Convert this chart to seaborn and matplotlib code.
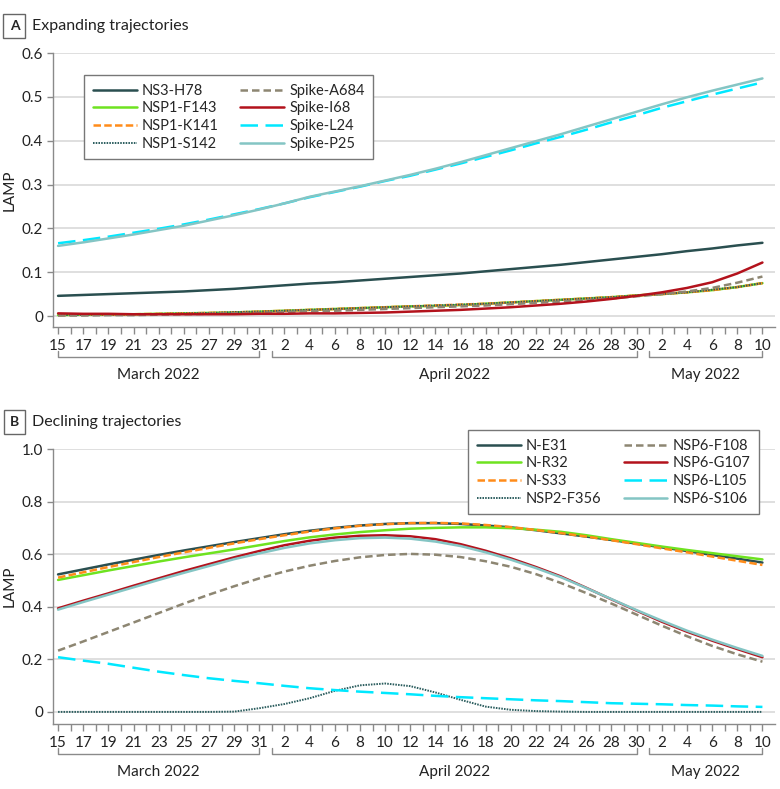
import numpy as np
import pandas as pd
import matplotlib
matplotlib.use("Agg")
import matplotlib.pyplot as plt
import matplotlib.transforms as mtransforms
import seaborn as sns

# day offsets from 15 March 2022, every 2 days up to 10 May 2022
days = list(range(0, 57, 2))

# ---- Panel A: expanding trajectories ----
ns3_h78 = [.046, .048, .050, .052, .054, .056, .059, .062, .066, .070, .074, .077, .081, .085, .089,
           .093, .097, .102, .107, .112, .117, .123, .129, .135, .141, .148, .154, .161, .167]
nsp1_f143 = [.002, .003, .003, .004, .005, .006, .007, .008, .010, .012, .014, .016, .018, .020, .022,
             .023, .025, .028, .031, .034, .037, .040, .043, .047, .050, .054, .059, .066, .075]
nsp1_k141 = [.002, .003, .003, .004, .005, .006, .007, .008, .010, .012, .014, .016, .018, .020, .022,
             .024, .026, .028, .031, .034, .037, .040, .043, .047, .050, .054, .059, .066, .075]
nsp1_s142 = [.002, .003, .003, .004, .005, .006, .007, .009, .010, .012, .014, .016, .018, .020, .022,
             .024, .026, .028, .031, .034, .037, .040, .043, .047, .050, .054, .060, .066, .075]
spike_a684 = [.001, .001, .002, .002, .003, .004, .005, .006, .007, .009, .011, .012, .014, .016, .018,
              .020, .022, .024, .027, .030, .033, .036, .040, .045, .050, .056, .064, .076, .090]
spike_i68 = [.006, .005, .005, .004, .004, .004, .004, .004, .005, .005, .006, .006, .007, .008, .010,
             .012, .014, .017, .020, .024, .028, .033, .039, .046, .054, .064, .077, .097, .122]
spike_l24 = [.166, .173, .181, .190, .199, .209, .220, .232, .244, .257, .271, .283, .295, .308, .320,
             .334, .348, .363, .378, .394, .409, .425, .442, .458, .475, .490, .505, .519, .533]
spike_p25 = [.160, .168, .177, .186, .196, .206, .218, .230, .243, .257, .272, .284, .296, .309, .322,
             .336, .351, .367, .383, .399, .415, .432, .449, .466, .483, .499, .514, .528, .542]

names_a = ["NS3-H78", "NSP1-F143", "NSP1-K141", "NSP1-S142",
           "Spike-A684", "Spike-I68", "Spike-L24", "Spike-P25"]
values_a = [ns3_h78, nsp1_f143, nsp1_k141, nsp1_s142,
            spike_a684, spike_i68, spike_l24, spike_p25]

# ---- Panel B: declining trajectories ----
n_e31 = [.523, .542, .561, .579, .597, .614, .630, .646, .661, .676, .689, .700, .709, .715, .718,
         .718, .715, .709, .702, .691, .679, .667, .654, .640, .626, .612, .597, .583, .568]
n_r32 = [.502, .520, .538, .555, .572, .588, .603, .618, .634, .650, .664, .675, .684, .691, .697,
         .700, .702, .702, .699, .693, .685, .672, .657, .643, .629, .616, .604, .592, .580]
n_s33 = [.511, .531, .551, .570, .589, .607, .624, .641, .657, .672, .686, .698, .708, .714, .718,
         .719, .717, .711, .703, .692, .680, .667, .653, .638, .622, .607, .591, .575, .559]
nsp2_f356 = [0, 0, 0, 0, 0, 0, 0, .001, .014, .030, .052, .080, .101, .108, .098,
             .074, .046, .020, .008, .003, .001, 0, 0, 0, 0, 0, 0, 0, 0]
nsp6_f108 = [.233, .268, .304, .340, .376, .412, .446, .478, .508, .534, .556, .574, .588, .597, .601,
             .598, .589, .573, .552, .524, .490, .452, .412, .370, .328, .288, .251, .219, .191]
nsp6_g107 = [.394, .423, .451, .480, .508, .536, .562, .588, .612, .634, .651, .663, .670, .672, .668,
             .657, .638, .613, .584, .551, .515, .472, .428, .385, .343, .305, .271, .239, .208]
nsp6_l105 = [.208, .195, .183, .168, .153, .140, .128, .118, .109, .099, .090, .083, .077, .072, .067,
             .061, .056, .052, .048, .044, .041, .037, .033, .031, .029, .026, .024, .021, .019]
nsp6_s106 = [.389, .418, .446, .474, .502, .529, .555, .581, .603, .624, .641, .653, .661, .663, .659,
             .648, .631, .607, .579, .547, .512, .471, .429, .387, .347, .309, .275, .243, .213]

names_b = ["N-E31", "N-R32", "N-S33", "NSP2-F356",
           "NSP6-F108", "NSP6-G107", "NSP6-L105", "NSP6-S106"]
values_b = [n_e31, n_r32, n_s33, nsp2_f356, nsp6_f108, nsp6_g107, nsp6_l105, nsp6_s106]

# x tick labels (every second day) and month brackets
tick_labels = ["15", "17", "19", "21", "23", "25", "27", "29", "31",
               "2", "4", "6", "8", "10", "12", "14", "16", "18", "20", "22", "24", "26", "28", "30",
               "2", "4", "6", "8", "10"]
months = ["March 2022", "April 2022", "May 2022"]
month_spans = [(0, 16), (17, 46), (47, 56)]

# shared style per position in each panel
colors = ["#2a4f50", "#6ee320", "#ff8c1a", "#2b5d5e", "#8d8672", "#b3121c", "#00e8ff", "#84c5c4"]
styles = ["-", "-", (0, (3, 1.3)), (0, (0.8, 0.6)), (0, (3, 1.6)), "-", (0, (7, 3)), "-"]
widths = [1.8, 1.8, 1.8, 1.4, 1.8, 1.8, 1.8, 1.8]

sns.set_style("white")
plt.rcParams["font.family"] = ["Lato", "DejaVu Sans"]

fig = plt.figure(figsize=(7.8, 7.89), dpi=100)
ax_a = fig.add_axes([0.068, 0.5856, 0.9256, 0.3472])
ax_b = fig.add_axes([0.068, 0.0824, 0.9256, 0.3485])


def draw_panel(ax, names, values, ylim, yticks, letter, title, legend_xy, legend_loc):
    for i, (name, vals) in enumerate(zip(names, values)):
        sns.lineplot(x=days, y=vals, ax=ax, color=colors[i], linestyle=styles[i],
                     linewidth=widths[i], label=name, legend=False)
    ax.set_xlim(-0.4, 57.0)
    ax.set_ylim(*ylim)
    ax.set_yticks(yticks)
    ax.set_yticklabels(["0" if v == 0 else f"{v:.1f}" for v in yticks], fontsize=11, color="#222222")
    ax.set_xticks(range(0, 57))
    ax.set_xticklabels([tick_labels[d // 2] if d % 2 == 0 else "" for d in range(0, 57)],
                       fontsize=11, color="#222222")
    ax.tick_params(axis="x", length=5, width=1, color="#8a8a8a", pad=4, bottom=True)
    ax.tick_params(axis="y", length=4, width=1, color="#8a8a8a", pad=3, left=True)
    ax.grid(axis="y", color="#dcdcdc", linewidth=1.3)
    ax.set_axisbelow(True)
    for s in ["top", "right"]:
        ax.spines[s].set_visible(False)
    for s in ["left", "bottom"]:
        ax.spines[s].set_color("#8a8a8a")
        ax.spines[s].set_linewidth(1)
    ax.set_xlabel("")
    ax.set_ylabel("LAMP", fontsize=11, color="#222222", labelpad=4)

    # month brackets under the axis
    trans = mtransforms.blended_transform_factory(ax.transData, ax.transAxes)
    for label, (x0, x1) in zip(months, month_spans):
        ax.plot([x0, x0, x1, x1], [-0.087, -0.11, -0.11, -0.087], transform=trans,
                color="#8a8a8a", linewidth=1, clip_on=False)
        ax.text((x0 + x1) / 2, -0.175, label, transform=trans, ha="center", va="center",
                fontsize=11, color="#222222")

    # panel letter box and title
    bbox = ax.get_position()
    ty = bbox.y1 + 0.0345
    fig.text(0.0185, ty, letter, fontsize=10, fontweight="bold", ha="center", va="center",
             bbox=dict(boxstyle="square,pad=0.45", facecolor="white", edgecolor="#666666", linewidth=1))
    fig.text(0.041, ty, title, fontsize=11.5, ha="left", va="center", color="#222222")

    handles, labels = ax.get_legend_handles_labels()
    leg = ax.legend(handles, labels, ncol=2, loc=legend_loc, bbox_to_anchor=legend_xy,
                    bbox_transform=fig.transFigure, borderaxespad=0, fontsize=10.5,
                    frameon=True, fancybox=False, edgecolor="#777777", framealpha=1,
                    handlelength=3.0, handletextpad=0.35, columnspacing=1.5,
                    labelspacing=0.25, borderpad=0.6)
    leg.get_frame().set_linewidth(1)


draw_panel(ax_a, names_a, values_a, (-0.025, 0.6), [0, 0.1, 0.2, 0.3, 0.4, 0.5, 0.6],
           "A", "Expanding trajectories", (0.1077, 0.9049), "upper left")
draw_panel(ax_b, names_b, values_b, (-0.046, 1.0), [0, 0.2, 0.4, 0.6, 0.8, 1.0],
           "B", "Declining trajectories", (0.9731, 0.455), "upper right")

fig.savefig("out.png", dpi=100)
